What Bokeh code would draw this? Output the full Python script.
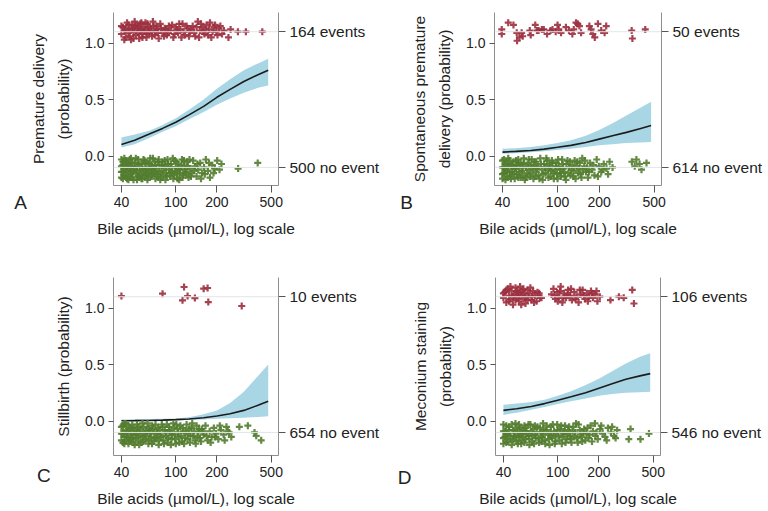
from bokeh.plotting import figure
from bokeh.models import Range1d, FixedTicker, NumeralTickFormatter, LinearAxis, Span, Label
from bokeh.layouts import column, row
from bokeh.embed import file_html
from bokeh.resources import INLINE

# ---------------- data ----------------
bile_grid = [40, 50, 64, 80, 100, 125, 160, 200, 250, 315, 400, 475]
x_ticks = [40, 100, 200, 500]
y_ticks = [0.0, 0.5, 1.0]
event_level = 1.1
noevent_level = -0.1

# Panel A: premature delivery
A_fit = [0.103, 0.14, 0.195, 0.245, 0.30, 0.365, 0.44, 0.52, 0.59, 0.66, 0.72, 0.76]
A_hi = [0.165, 0.19, 0.225, 0.275, 0.335, 0.41, 0.50, 0.595, 0.68, 0.76, 0.82, 0.86]
A_lo = [0.075, 0.105, 0.16, 0.215, 0.265, 0.325, 0.39, 0.455, 0.51, 0.56, 0.605, 0.625]
A_events = [(40,1.08),(41,1.14),(42,1.11),(43,1.05),(44,1.18),(45,1.09),(46,1.13),(47,1.03),(48,1.16),(49,1.10),
            (50,1.19),(51,1.07),(52,1.13),(53,1.15),(54,1.04),(55,1.11),(56,1.18),(57,1.08),(58,1.14),(60,1.12),
            (61,1.05),(62,1.17),(64,1.09),(65,1.13),(67,1.06),(69,1.15),(71,1.10),(73,1.12),(75,1.04),(77,1.17),
            (80,1.09),(83,1.13),(86,1.07),(89,1.15),(92,1.11),(96,1.05),(100,1.14),(104,1.09),(108,1.12),(112,1.17),
            (117,1.07),(122,1.13),(127,1.10),(133,1.15),(139,1.06),(145,1.19),(150,1.11),(156,1.14),(162,1.08),(168,1.16),
            (175,1.12),(182,1.05),(190,1.14),(198,1.10),(207,1.13),(218,1.08),(243,1.05),(252,1.12),(285,1.10),(326,1.10),(430,1.10),
            (40,1.15),(42,1.03),(43,1.12),(45,1.16),(46,1.06),(48,1.12),(49,1.04),(50,1.14),(51,1.16),(53,1.09),
            (55,1.17),(56,1.12),(57,1.05),(59,1.10),(60,1.18),(62,1.08),(63,1.14),(66,1.11),(68,1.19),(70,1.07),
            (72,1.15),(74,1.09),(78,1.13),(82,1.06),(85,1.12),(88,1.09),(94,1.16),(98,1.08),(102,1.12),(106,1.17),
            (110,1.05),(114,1.10),(120,1.15),(125,1.06),(130,1.12),(136,1.09),(142,1.14),(148,1.05),(153,1.17),(159,1.10),
            (165,1.12),(172,1.07),(178,1.18),(186,1.10),(194,1.16),(202,1.07),(212,1.15),(225,1.11)]
A_none = [(40,-0.03),(40,-0.14),(41,-0.20),(41,-0.08),(42,-0.11),(43,-0.17),(43,-0.04),(44,-0.13),(45,-0.21),(45,-0.07),
          (46,-0.10),(47,-0.16),(47,-0.02),(48,-0.19),(49,-0.12),(50,-0.06),(51,-0.15),(52,-0.21),(52,-0.09),(53,-0.03),
          (54,-0.18),(55,-0.12),(56,-0.07),(57,-0.20),(58,-0.14),(59,-0.04),(60,-0.10),(61,-0.17),(62,-0.21),(63,-0.06),
          (64,-0.13),(65,-0.02),(66,-0.18),(67,-0.09),(69,-0.15),(70,-0.05),(71,-0.20),(72,-0.11),(74,-0.16),(75,-0.03),
          (76,-0.08),(78,-0.19),(79,-0.13),(80,-0.05),(82,-0.10),(84,-0.21),(85,-0.15),(87,-0.03),(89,-0.12),(91,-0.18),
          (92,-0.07),(94,-0.14),(96,-0.20),(98,-0.04),(100,-0.10),(102,-0.16),(104,-0.07),(106,-0.21),(108,-0.12),(111,-0.03),
          (113,-0.17),(116,-0.09),(118,-0.14),(121,-0.05),(124,-0.19),(127,-0.11),(131,-0.15),(134,-0.04),(138,-0.09),(142,-0.18),
          (146,-0.12),(151,-0.06),(156,-0.15),(161,-0.10),(166,-0.03),(172,-0.13),(178,-0.19),(185,-0.08),(193,-0.11),(201,-0.04),
          (209,-0.12),(216,-0.07),(286,-0.11),(398,-0.06),
          (40,-0.09),(40,-0.19),(41,-0.05),(41,-0.14),(42,-0.02),(42,-0.17),(43,-0.09),(44,-0.20),(44,-0.06),(45,-0.12),
          (46,-0.03),(46,-0.18),(47,-0.09),(48,-0.06),(48,-0.14),(49,-0.21),(50,-0.10),(51,-0.02),(52,-0.13),(53,-0.18),
          (54,-0.07),(55,-0.16),(56,-0.20),(57,-0.11),(58,-0.03),(59,-0.17),(60,-0.06),(61,-0.12),(62,-0.15),(63,-0.19),
          (64,-0.07),(66,-0.11),(67,-0.16),(68,-0.02),(70,-0.13),(71,-0.08),(73,-0.18),(74,-0.05),(76,-0.14),(77,-0.21),
          (79,-0.08),(81,-0.17),(83,-0.04),(85,-0.09),(86,-0.18),(88,-0.07),(90,-0.15),(93,-0.10),(95,-0.02),(97,-0.17),
          (99,-0.13),(101,-0.05),(103,-0.20),(105,-0.11),(107,-0.15),(110,-0.08),(112,-0.19),(115,-0.04),(117,-0.12),(120,-0.16),
          (123,-0.09),(126,-0.03),(129,-0.18),(136,-0.13),(144,-0.07),(153,-0.20),(163,-0.16),(175,-0.06),(189,-0.15)]

# Panel B: spontaneous premature delivery
B_fit = [0.035, 0.042, 0.05, 0.062, 0.078, 0.095, 0.12, 0.15, 0.18, 0.21, 0.245, 0.27]
B_hi = [0.065, 0.07, 0.08, 0.095, 0.115, 0.14, 0.18, 0.23, 0.29, 0.36, 0.43, 0.48]
B_lo = [0.02, 0.025, 0.033, 0.042, 0.055, 0.065, 0.08, 0.095, 0.105, 0.115, 0.12, 0.125]
B_events = [(39.5,1.12),(39.5,1.08),(44,1.18),(48,1.16),(50.7,1.09),(51,1.02),(53,1.05),(55,1.09),(56,1.06),(63,1.11),
            (64,1.07),(69,1.16),(71,1.11),(73,1.11),(77,1.12),(79.5,1.12),(84,1.08),(89,1.11),(92,1.12),(97,1.10),
            (100,1.16),(102,1.12),(106,1.09),(115,1.14),(121,1.11),(128,1.08),(131,1.12),(136,1.18),(140,1.17),(144,1.15),
            (148,1.09),(170,1.15),(175,1.12),(180,1.08),(186,1.05),(196,1.17),(207,1.11),(219,1.09),(225,1.15),(344,1.11),
            (348,1.04),(431,1.12)]
B_none = [(40,-0.04),(40,-0.16),(41,-0.10),(42,-0.21),(42,-0.07),(43,-0.13),(44,-0.02),(45,-0.18),(46,-0.09),(47,-0.14),
          (48,-0.05),(49,-0.20),(50,-0.11),(51,-0.16),(52,-0.03),(53,-0.08),(54,-0.19),(55,-0.13),(57,-0.06),(58,-0.21),
          (59,-0.10),(60,-0.15),(62,-0.03),(63,-0.18),(64,-0.08),(66,-0.12),(67,-0.20),(68,-0.05),(70,-0.14),(72,-0.09),
          (73,-0.17),(75,-0.02),(77,-0.12),(78,-0.21),(80,-0.07),(82,-0.15),(84,-0.04),(86,-0.19),(88,-0.10),(90,-0.13),
          (92,-0.06),(94,-0.20),(97,-0.09),(99,-0.16),(101,-0.03),(104,-0.12),(106,-0.18),(109,-0.07),(112,-0.14),(115,-0.21),
          (118,-0.04),(121,-0.10),(124,-0.17),(128,-0.08),(131,-0.13),(135,-0.20),(139,-0.05),(143,-0.11),(147,-0.16),(151,-0.02),
          (156,-0.09),(161,-0.14),(166,-0.19),(172,-0.06),(178,-0.12),(185,-0.17),(192,-0.03),(199,-0.09),(207,-0.14),(216,-0.07),
          (226,-0.11),(238,-0.05),(250,-0.10),(345,-0.05),(362,-0.09),(372,-0.03),(392,-0.07),(405,-0.12),(440,-0.06),
          (40,-0.10),(40,-0.20),(41,-0.03),(41,-0.15),(42,-0.12),(43,-0.06),(43,-0.18),(44,-0.09),(45,-0.14),(45,-0.04),
          (46,-0.20),(47,-0.08),(48,-0.16),(49,-0.11),(50,-0.04),(51,-0.08),(52,-0.19),(53,-0.14),(54,-0.06),(56,-0.10),
          (56,-0.17),(57,-0.02),(59,-0.19),(61,-0.07),(62,-0.12),(64,-0.16),(65,-0.03),(67,-0.09),(69,-0.18),(70,-0.05),
          (71,-0.11),(74,-0.20),(76,-0.07),(79,-0.16),(81,-0.10),(83,-0.02),(85,-0.12),(87,-0.08),(89,-0.18),(91,-0.04),
          (93,-0.15),(96,-0.12),(98,-0.06),(100,-0.20),(102,-0.09),(105,-0.15),(108,-0.03),(110,-0.11),(113,-0.18),(116,-0.07),
          (120,-0.15),(123,-0.05),(126,-0.12),(130,-0.18),(133,-0.04),(137,-0.09),(141,-0.15),(145,-0.06),(149,-0.19),(153,-0.12),
          (158,-0.04),(164,-0.10),(169,-0.14),(182,-0.08),(196,-0.18),(212,-0.12),(232,-0.16)]

# Panel C: stillbirth
C_fit = [0.003, 0.004, 0.006, 0.009, 0.013, 0.019, 0.03, 0.045, 0.065, 0.095, 0.14, 0.175]
C_hi = [0.015, 0.016, 0.018, 0.02, 0.024, 0.035, 0.06, 0.095, 0.16, 0.26, 0.40, 0.50]
C_lo = [0.0, 0.0, 0.001, 0.003, 0.006, 0.01, 0.015, 0.02, 0.025, 0.03, 0.037, 0.043]
C_events = [(40,1.106),(80,1.127),(115,1.186),(112,1.068),(122,1.106),(138,1.088),(160,1.171),(171,1.177),(173,1.053),(304,1.018)]
C_none = [(40,-0.05),(40,-0.17),(41,-0.11),(42,-0.02),(42,-0.20),(43,-0.08),(44,-0.14),(45,-0.04),(46,-0.18),(47,-0.10),
          (48,-0.15),(49,-0.06),(50,-0.21),(51,-0.12),(52,-0.03),(53,-0.17),(54,-0.09),(55,-0.13),(56,-0.19),(58,-0.05),
          (59,-0.11),(60,-0.16),(62,-0.02),(63,-0.20),(64,-0.08),(66,-0.14),(67,-0.04),(69,-0.18),(70,-0.10),(72,-0.15),
          (74,-0.06),(75,-0.21),(77,-0.12),(79,-0.03),(81,-0.17),(83,-0.08),(85,-0.13),(87,-0.19),(89,-0.05),(91,-0.10),
          (93,-0.16),(96,-0.02),(98,-0.12),(100,-0.20),(103,-0.07),(105,-0.14),(108,-0.04),(111,-0.18),(114,-0.09),(117,-0.15),
          (120,-0.03),(123,-0.11),(127,-0.19),(130,-0.06),(134,-0.13),(138,-0.17),(142,-0.04),(146,-0.10),(150,-0.15),(155,-0.07),
          (160,-0.12),(165,-0.04),(171,-0.17),(177,-0.09),(183,-0.14),(190,-0.06),(197,-0.11),(205,-0.16),(214,-0.08),(224,-0.12),
          (235,-0.05),(246,-0.10),(255,-0.14),(292,-0.05),(337,-0.04),(377,-0.10),(388,-0.13),(422,-0.17),
          (40,-0.11),(41,-0.04),(41,-0.19),(42,-0.14),(43,-0.02),(43,-0.17),(44,-0.09),(45,-0.20),(45,-0.12),(46,-0.06),
          (47,-0.16),(48,-0.03),(49,-0.12),(49,-0.19),(50,-0.08),(51,-0.15),(52,-0.10),(53,-0.05),(54,-0.21),(55,-0.07),
          (57,-0.14),(57,-0.02),(58,-0.18),(60,-0.09),(61,-0.13),(63,-0.06),(64,-0.17),(65,-0.11),(67,-0.20),(68,-0.07),
          (70,-0.15),(71,-0.03),(73,-0.11),(75,-0.17),(76,-0.08),(78,-0.14),(80,-0.05),(82,-0.20),(84,-0.10),(86,-0.03),
          (88,-0.15),(90,-0.08),(92,-0.21),(94,-0.12),(97,-0.06),(99,-0.16),(101,-0.03),(104,-0.10),(106,-0.19),(109,-0.13),
          (112,-0.06),(115,-0.20),(118,-0.10),(122,-0.16),(125,-0.07),(128,-0.13),(132,-0.02),(136,-0.09),(140,-0.20),(144,-0.14),
          (148,-0.07),(153,-0.18),(158,-0.09),(168,-0.13),(180,-0.19),(193,-0.14),(210,-0.04),(228,-0.17),(240,-0.09)]

# Panel D: meconium staining
D_fit = [0.095, 0.11, 0.13, 0.155, 0.185, 0.215, 0.25, 0.29, 0.33, 0.37, 0.40, 0.42]
D_hi = [0.145, 0.155, 0.17, 0.19, 0.225, 0.265, 0.32, 0.375, 0.44, 0.51, 0.57, 0.60]
D_lo = [0.055, 0.075, 0.10, 0.125, 0.152, 0.175, 0.20, 0.225, 0.24, 0.25, 0.255, 0.26]
D_events = [(40,1.09),(41,1.14),(42,1.05),(43,1.17),(44,1.11),(45,1.08),(46,1.15),(47,1.03),(48,1.12),(49,1.18),
            (50,1.09),(51,1.14),(52,1.06),(53,1.19),(54,1.11),(55,1.15),(56,1.08),(57,1.13),(58,1.04),(60,1.16),
            (61,1.10),(62,1.13),(64,1.07),(66,1.15),(68,1.11),(70,1.06),(73,1.13),(76,1.09),(90,1.12),(93,1.17),
            (96,1.08),(99,1.14),(102,1.10),(105,1.19),(108,1.05),(111,1.13),(115,1.09),(119,1.16),(123,1.11),(127,1.07),
            (132,1.14),(137,1.10),(142,1.05),(147,1.12),(152,1.16),(158,1.08),(163,1.13),(169,1.10),(175,1.15),(181,1.09),
            (188,1.12),(195,1.06),(203,1.10),(243,1.07),(280,1.10),(304,1.09),(351,1.16),(361,1.04),
            (40,1.13),(42,1.16),(44,1.06),(45,1.19),(47,1.10),(49,1.07),(50,1.15),(52,1.12),(54,1.03),(56,1.17),
            (58,1.10),(60,1.07),(63,1.18),(65,1.10),(67,1.05),(71,1.14),(74,1.09),(95,1.11),(100,1.06),(104,1.15),
            (110,1.09),(118,1.12),(125,1.17),(135,1.08),(145,1.16),(155,1.11),(166,1.06),(178,1.13),(192,1.15)]
D_none = [(40,-0.03),(40,-0.15),(41,-0.09),(42,-0.19),(43,-0.12),(44,-0.05),(45,-0.16),(46,-0.21),(47,-0.08),(48,-0.13),
          (49,-0.02),(50,-0.18),(51,-0.10),(52,-0.14),(53,-0.06),(54,-0.20),(55,-0.11),(57,-0.04),(58,-0.16),(59,-0.09),
          (61,-0.13),(62,-0.21),(63,-0.03),(65,-0.18),(66,-0.07),(68,-0.12),(69,-0.15),(71,-0.05),(73,-0.19),(75,-0.10),
          (77,-0.14),(78,-0.02),(80,-0.17),(82,-0.08),(85,-0.12),(87,-0.21),(89,-0.05),(91,-0.15),(94,-0.09),(96,-0.18),
          (99,-0.03),(101,-0.13),(104,-0.07),(107,-0.20),(110,-0.11),(113,-0.04),(116,-0.16),(119,-0.08),(123,-0.13),(126,-0.19),
          (130,-0.05),(134,-0.10),(138,-0.15),(142,-0.03),(147,-0.12),(151,-0.18),(156,-0.07),(162,-0.11),(168,-0.15),(174,-0.04),
          (181,-0.09),(187,-0.02),(188,-0.13),(196,-0.16),(204,-0.07),(213,-0.11),(222,-0.14),(233,-0.06),(245,-0.10),(258,-0.13),
          (272,-0.08),(331,-0.16),(341,-0.07),(403,-0.16),(465,-0.11),
          (40,-0.09),(40,-0.20),(41,-0.14),(42,-0.04),(42,-0.11),(43,-0.18),(44,-0.08),(45,-0.13),(46,-0.03),(47,-0.17),
          (48,-0.10),(49,-0.14),(50,-0.06),(51,-0.20),(52,-0.03),(53,-0.12),(54,-0.17),(55,-0.08),(56,-0.14),(57,-0.19),
          (58,-0.06),(60,-0.11),(61,-0.03),(62,-0.16),(64,-0.09),(65,-0.13),(67,-0.20),(68,-0.04),(70,-0.10),(72,-0.15),
          (74,-0.06),(76,-0.18),(78,-0.12),(79,-0.08),(81,-0.20),(83,-0.04),(86,-0.16),(88,-0.10),(90,-0.13),(92,-0.03),
          (95,-0.20),(97,-0.12),(100,-0.08),(103,-0.17),(106,-0.04),(108,-0.14),(111,-0.09),(114,-0.19),(118,-0.12),(121,-0.05),
          (124,-0.16),(128,-0.09),(132,-0.14),(136,-0.02),(140,-0.19),(145,-0.08),(149,-0.14),(154,-0.10),(159,-0.17),(165,-0.06),
          (171,-0.12),(178,-0.18),(192,-0.10),(208,-0.04),(228,-0.17),(250,-0.05),(265,-0.15)]

panels = [
    dict(letter="A", ytitle="Premature delivery\n(probability)", n_ev="164 events", n_no="500 no event",
         fit=A_fit, hi=A_hi, lo=A_lo, ev=A_events, no=A_none),
    dict(letter="B", ytitle="Spontaneous premature\ndelivery (probability)", n_ev="50 events", n_no="614 no event",
         fit=B_fit, hi=B_hi, lo=B_lo, ev=B_events, no=B_none),
    dict(letter="C", ytitle="Stillbirth (probability)", n_ev="10 events", n_no="654 no event",
         fit=C_fit, hi=C_hi, lo=C_lo, ev=C_events, no=C_none),
    dict(letter="D", ytitle="Meconium staining\n(probability)", n_ev="106 events", n_no="546 no event",
         fit=D_fit, hi=D_hi, lo=D_lo, ev=D_events, no=D_none),
]

# ---------------- styling / layout ----------------
FONT = "Liberation Sans"
TXT = "#222222"
RED = "#9c2f3e"
GREEN = "#527c2d"
BAND = "#a9d6e5"

# panel placement (pixels) and letter anchor (in each panel's data space, outside the frame)
layout_cfg = {
    "A": dict(h=255, left=113, right=106, top=12, bottom=70, ylo=-0.26, lx=7.3, ly=-0.41),
    "B": dict(h=255, left=110, right=107, top=12, bottom=70, ylo=-0.26, lx=8.1, ly=-0.41),
    "C": dict(h=256, left=113, right=106, top=22, bottom=56, ylo=-0.304, lx=10.8, ly=-0.481),
    "D": dict(h=256, left=111, right=108, top=22, bottom=56, ylo=-0.304, lx=7.55, ly=-0.499),
}


def make_panel(cfg):
    lc = layout_cfg[cfg["letter"]]
    p = figure(width=384, height=lc["h"], x_axis_type="log",
               x_range=Range1d(35, 565), y_range=Range1d(lc["ylo"], 1.27),
               output_backend="svg", toolbar_location=None,
               min_border_left=lc["left"], min_border_right=lc["right"],
               min_border_top=lc["top"], min_border_bottom=lc["bottom"])
    p.outline_line_color = None
    p.grid.visible = False
    p.background_fill_color = "white"
    p.border_fill_color = "white"

    for lvl in (event_level, noevent_level):
        p.add_layout(Span(location=lvl, dimension="width", line_color="#e1e6ea", line_width=1))

    p.varea(x=bile_grid, y1=cfg["lo"], y2=cfg["hi"], fill_color=BAND, fill_alpha=1.0)
    p.line(x=bile_grid, y=cfg["fit"], line_color="#1c1c1c", line_width=1.6)

    nx = [a for a, b in cfg["no"]]
    ny = [b for a, b in cfg["no"]]
    ex = [a for a, b in cfg["ev"]]
    ey = [b for a, b in cfg["ev"]]
    p.scatter(nx, ny, marker="cross", size=7, line_color=GREEN, line_width=2.2, line_alpha=0.9)
    p.scatter(ex, ey, marker="cross", size=7, line_color=RED, line_width=2.2, line_alpha=0.9)

    # bottom axis
    xa = p.xaxis[0]
    xa.ticker = FixedTicker(ticks=x_ticks, minor_ticks=[])
    xa.formatter = NumeralTickFormatter(format="0")
    xa.axis_label = "Bile acids (\u00b5mol/L), log scale"
    # left axis
    ya = p.yaxis[0]
    ya.ticker = FixedTicker(ticks=y_ticks, minor_ticks=[])
    ya.formatter = NumeralTickFormatter(format="0.0")
    ya.axis_label = cfg["ytitle"]
    ya.axis_label_text_line_height = 1.45
    # right axis
    ra = LinearAxis(ticker=FixedTicker(ticks=[noevent_level, event_level], minor_ticks=[]),
                    major_label_overrides={event_level: cfg["n_ev"], noevent_level: cfg["n_no"]})
    p.add_layout(ra, "right")

    for ax in (xa, ya, ra):
        ax.axis_line_color = "#8f8f8f"
        ax.axis_line_width = 1
        ax.major_tick_line_color = "#555555"
        ax.major_tick_in = 0
        ax.minor_tick_line_color = None
        ax.major_label_text_font = FONT
        ax.major_label_text_color = TXT
        ax.major_label_text_font_size = "14px"
        ax.axis_label_text_font = FONT
        ax.axis_label_text_color = TXT
        ax.axis_label_text_font_size = "15.5px"
        ax.axis_label_text_font_style = "normal"
    xa.major_tick_out = 7
    xa.major_label_standoff = 4
    xa.axis_label_standoff = 10
    ya.major_tick_out = 5
    ya.major_label_standoff = 4
    ya.axis_label_standoff = 10
    ra.major_tick_out = 7
    ra.major_label_standoff = 4
    ra.major_label_text_font_size = "15.5px"

    # panel letter: placed in a side panel so that it is not clipped to the frame
    p.add_layout(Label(x=lc["lx"], y=lc["ly"], x_units="data", y_units="data",
                       text=cfg["letter"], text_font=FONT, text_font_size="19px",
                       text_color=TXT, text_align="center", text_baseline="middle"), "left")
    return p


figs = [make_panel(c) for c in panels]
layout = column(row(figs[0], figs[1]), row(figs[2], figs[3]))

open("out.html", "w").write(file_html(layout, INLINE))
